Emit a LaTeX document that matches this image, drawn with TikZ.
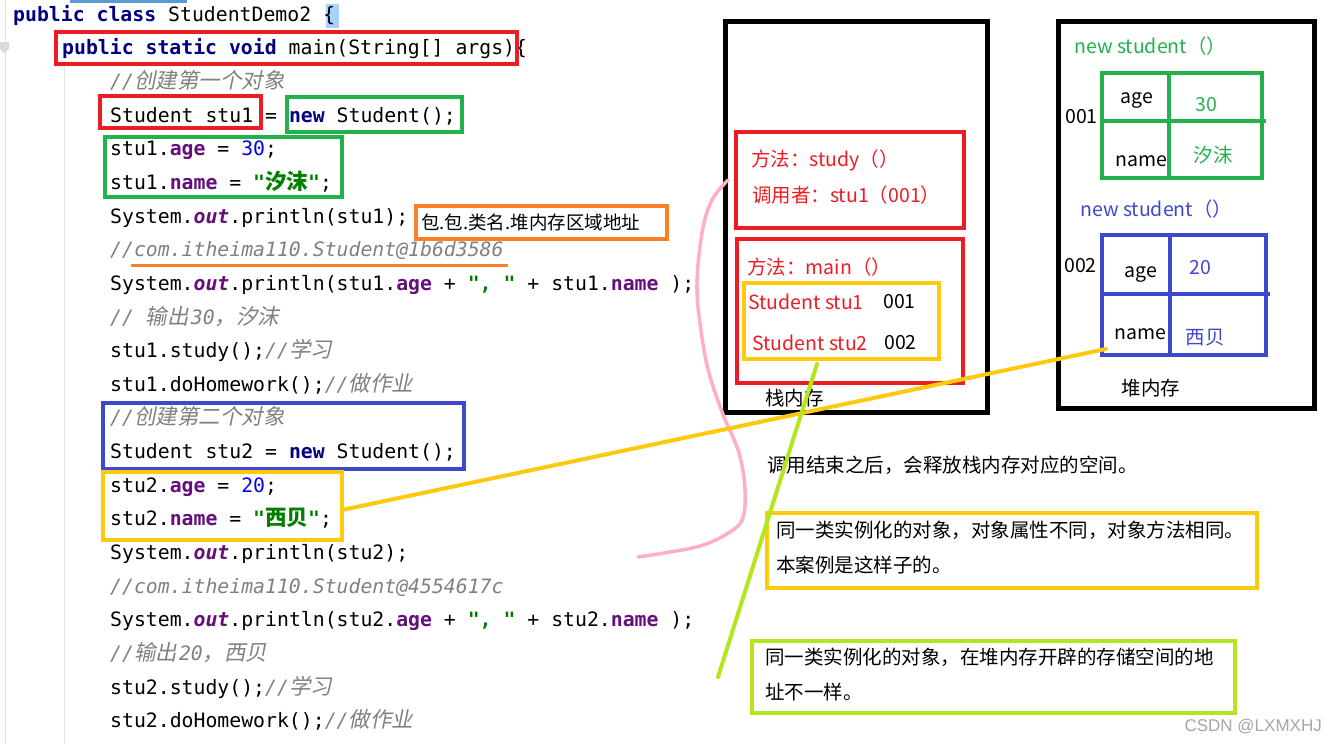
\documentclass[tikz,border=0pt]{standalone}
\usepackage{fontspec}
\setmainfont{Noto Sans CJK SC}
\setmonofont{DejaVu Sans Mono}
\newfontfamily\zhcode{Noto Sans CJK SC}
\newfontfamily\zhcodeit{Noto Sans CJK SC}[FakeSlant=0.2]
\newfontfamily\wmfont{Liberation Sans}
\usetikzlibrary{fit}
\definecolor{pred}{HTML}{ED1C24}
\definecolor{pgreen}{HTML}{22B14C}
\definecolor{porange}{HTML}{FF7F27}
\definecolor{pblue}{HTML}{3F48CC}
\definecolor{pyellow}{HTML}{FFC90E}
\definecolor{plime}{HTML}{B5E61D}
\definecolor{ppink}{HTML}{FFAEC9}
\definecolor{ckwc}{HTML}{000080}
\definecolor{cfldc}{HTML}{660E7A}
\definecolor{cnumc}{HTML}{0000FF}
\definecolor{cstrc}{HTML}{008000}
\definecolor{ccmtc}{HTML}{808080}
\definecolor{hlblue}{HTML}{A8D1FF}
\definecolor{tabblue}{HTML}{5B9BD5}
\newcommand\ckw[1]{{\bfseries\color{ckwc}#1}}
\newcommand\cfl[1]{{\bfseries\color{cfldc}#1}}
\newcommand\cout[1]{{\bfseries\itshape\color{cfldc}#1}}
\newcommand\cnum[1]{{\color{cnumc}#1}}
\newcommand\cstr[1]{{\bfseries\color{cstrc}#1}}
\newcommand\ccmt[1]{{\itshape\color{ccmtc}#1}}
\newcommand\czh[1]{{\zhcode\fontsize{21.5}{22}\selectfont #1}}
\newcommand\czhi[1]{{\zhcodeit\fontsize{21.5}{22}\selectfont\color{ccmtc}#1}}
\tikzset{
  code/.style={anchor=base west, inner sep=0pt, font=\ttfamily\fontsize{19.8}{20}\selectfont, text=black},
  cbox/.style={draw=#1, line width=3.5pt, inner sep=0pt},
  sbox/.style={draw=#1, line width=4pt, inner sep=0pt},
  mem/.style={draw=black, line width=5pt, inner sep=0pt},
  ann/.style={inner sep=0pt, font=\fontsize{19.5}{24}\selectfont, text=black},
  tline/.style={line width=4pt},
  conn/.style={line width=4pt, line cap=round}
}
\begin{document}
\begin{tikzpicture}[x=1pt,y=1pt]
\useasboundingbox (0,0) rectangle (1338,-744);
\fill[white] (0,0) rectangle (1338,-744);
% IDE decorations
\draw[black!12, line width=1pt] (5,0) -- (5,-744);
\draw[black!10, line width=1pt] (64,-62) -- (64,-744);
\fill[tabblue] (70,0) rectangle (187,-3);
\fill[black!15] (0,-42) -- (9,-42) -- (9,-49) -- (4,-53) -- (0,-49) -- cycle;
\fill[hlblue] (326,-4) rectangle (339,-28);
% code lines
\node[code] (l1) at (13,-21) {\ckw{public class} StudentDemo2 \{};
\node[code] (l2) at (62,-54.7) {\ckw{public static void} main(String[] args)\{};
\node[code] (l3) at (110,-88.3) {\ccmt{//}\czhi{创建第一个对象}};
\node[code] (l4) at (110,-122) {Student stu1 = \ckw{new} Student();};
\node[code] (l5) at (110,-155.6) {stu1.\cfl{age} = \cnum{30};};
\node[code] (l6) at (110,-189.3) {stu1.\cfl{name} = \cstr{"\czh{汐沫}"};};
\node[code] (l7) at (110,-223) {System.\cout{out}.println(stu1);};
\node[code] (l8) at (110,-256.6) {\ccmt{//com.itheima110.Student@1b6d3586}};
\node[code] (l9) at (110,-290.3) {System.\cout{out}.println(stu1.\cfl{age} + \cstr{", "} + stu1.\cfl{name} );};
\node[code] (l10) at (110,-324) {\ccmt{// }\czhi{输出}\hspace{2pt}\ccmt{30}\czhi{，汐沫}};
\node[code] (l11) at (110,-357.6) {stu1.study();\ccmt{//}\czhi{学习}};
\node[code] (l12) at (110,-391.3) {stu1.doHomework();\ccmt{//}\czhi{做作业}};
\node[code] (l13) at (110,-424.9) {\ccmt{//}\czhi{创建第二个对象}};
\node[code] (l14) at (110,-458.6) {Student stu2 = \ckw{new} Student();};
\node[code] (l15) at (110,-492.2) {stu2.\cfl{age} = \cnum{20};};
\node[code] (l16) at (110,-525.9) {stu2.\cfl{name} = \cstr{"\czh{西贝}"};};
\node[code] (l17) at (110,-559.6) {System.\cout{out}.println(stu2);};
\node[code] (l18) at (110,-593.2) {\ccmt{//com.itheima110.Student@4554617c}};
\node[code] (l19) at (110,-626.9) {System.\cout{out}.println(stu2.\cfl{age} + \cstr{", "} + stu2.\cfl{name} );};
\node[code] (l20) at (110,-660.5) {\ccmt{//}\czhi{输出}\hspace{2pt}\ccmt{20}\czhi{，西贝}};
\node[code] (l21) at (110,-694.2) {stu2.study();\ccmt{//}\czhi{学习}};
\node[code] (l22) at (110,-727.9) {stu2.doHomework();\ccmt{//}\czhi{做作业}};
% code boxes
\node[cbox=pred, fit={(56,-32) (517,-64)}] (bmain) {};
\node[cbox=pred, fit={(100,-96) (261,-128)}] (bstu1) {};
\node[cbox=pgreen, fit={(287,-97) (462,-132)}] (bnew1) {};
\node[cbox=pgreen, fit={(105,-137) (342,-197)}] (bfld1) {};
\node[cbox=porange, fit={(416,-206) (667,-239)}] (baddr) {};
\node[ann, anchor=west] (taddr) at (421,-222.5) {\fontsize{18.5}{20}\selectfont 包.包.类名.堆内存区域地址};
\draw[porange, line width=3pt] (131,-265) -- (508,-265);
\node[cbox=pblue, fit={(103,-403) (464,-469)}] (bnew2) {};
\node[cbox=pyellow, fit={(103,-472) (342,-540)}] (bfld2) {};
% stack memory
\node[mem, fit={(725,-21) (987,-412)}] (stack) {};
\node[sbox=pred, fit={(736,-132) (964,-228)}] (fstudy) {};
\node[ann, anchor=west, text=pred] (tstudy) at (751,-160) {方法：study（）};
\node[ann, anchor=west, text=pred] (tcaller) at (752,-195) {调用者：stu1（001）};
\node[sbox=pred, fit={(737,-239) (963,-383)}] (fmain) {};
\node[ann, anchor=west, text=pred] (tmain) at (747,-267) {方法：main（）};
\node[sbox=pyellow, fit={(744,-283) (939,-359)}] (vars) {};
\node[ann, anchor=west, text=pred] (vs1) at (748,-302) {Student stu1};
\node[ann, anchor=west] (va1) at (883,-302) {001};
\node[ann, anchor=west, text=pred] (vs2) at (752,-343) {Student stu2};
\node[ann, anchor=west] (va2) at (884,-343) {002};
\node[ann, anchor=west] (tstack) at (765,-398) {栈内存};
% heap memory
\node[mem, fit={(1058,-21) (1314,-408)}] (heap) {};
\node[ann, anchor=west, text=pgreen] (tnew1) at (1074,-46) {new student（）};
\node[ann, anchor=west] (ad1) at (1065,-117) {001};
\node[sbox=pgreen, fit={(1102,-73) (1262,-178)}] (tab1) {};
\draw[pgreen, tline] (1169,-73) -- (1169,-178);
\draw[pgreen, tline] (1102,-121) -- (1266,-121);
\node[ann] (k1a) at (1137,-101) {age};
\node[ann, text=pgreen] (v1a) at (1206,-105) {30};
\node[ann] (k1n) at (1141,-161) {name};
\node[ann, text=pgreen] (v1n) at (1213,-155) {汐沫};
\node[ann, anchor=west, text=pblue] (tnew2) at (1080,-209) {new student（）};
\node[ann, anchor=west] (ad2) at (1064,-266) {002};
\node[sbox=pblue, fit={(1102,-235) (1266,-355)}] (tab2) {};
\draw[pblue, tline] (1170,-235) -- (1170,-355);
\draw[pblue, tline] (1102,-294) -- (1270,-294);
\node[ann] (k2a) at (1141,-275) {age};
\node[ann, text=pblue] (v2a) at (1200,-268) {20};
\node[ann] (k2n) at (1140,-334) {name};
\node[ann, text=pblue] (v2n) at (1205,-338) {西贝};
\node[ann] (theap) at (1151,-388) {堆内存};
% annotations
\node[ann, anchor=west] (tend) at (767,-465) {调用结束之后，会释放栈内存对应的空间。};
\node[sbox=pyellow, fit={(767,-513) (1257,-588)}] (note1) {};
\node[ann, anchor=west] (note1a) at (776,-530) {同一类实例化的对象，对象属性不同，对象方法相同。};
\node[ann, anchor=west] (note1b) at (776,-565) {本案例是这样子的。};
\node[sbox=plime, fit={(752,-641) (1235,-713)}] (note2) {};
\node[ann, anchor=west] (note2a) at (765,-657) {同一类实例化的对象，在堆内存开辟的存储空间的地};
\node[ann, anchor=west] (note2b) at (765,-692) {址不一样。};
\node[inner sep=0pt, anchor=east, text=black!35, font=\wmfont\fontsize{17}{18}\selectfont] (wm) at (1322,-727) {CSDN @LXMXHJ};
% connectors
\coordinate (pinkstart) at (728,-180);
\coordinate (pinkend) at (638,-557);
\draw[ppink, line width=3.5pt, line cap=round] plot[smooth, tension=0.6] coordinates {(pinkstart) (712,-200) (702,-233) (697,-290) (704,-350) (712,-383) (724,-417) (739,-453) (745,-490) (742,-520) (725,-535) (700,-546) (670,-552) (pinkend)};
\coordinate (ystart) at (342,-510);
\coordinate (yend) at (1106,-349);
\draw[pyellow, conn] (ystart) -- (yend);
\coordinate (gstart) at (817,-364);
\coordinate (gend) at (718,-677);
\draw[plime, conn] (gstart) -- (gend);
\end{tikzpicture}
\end{document}
